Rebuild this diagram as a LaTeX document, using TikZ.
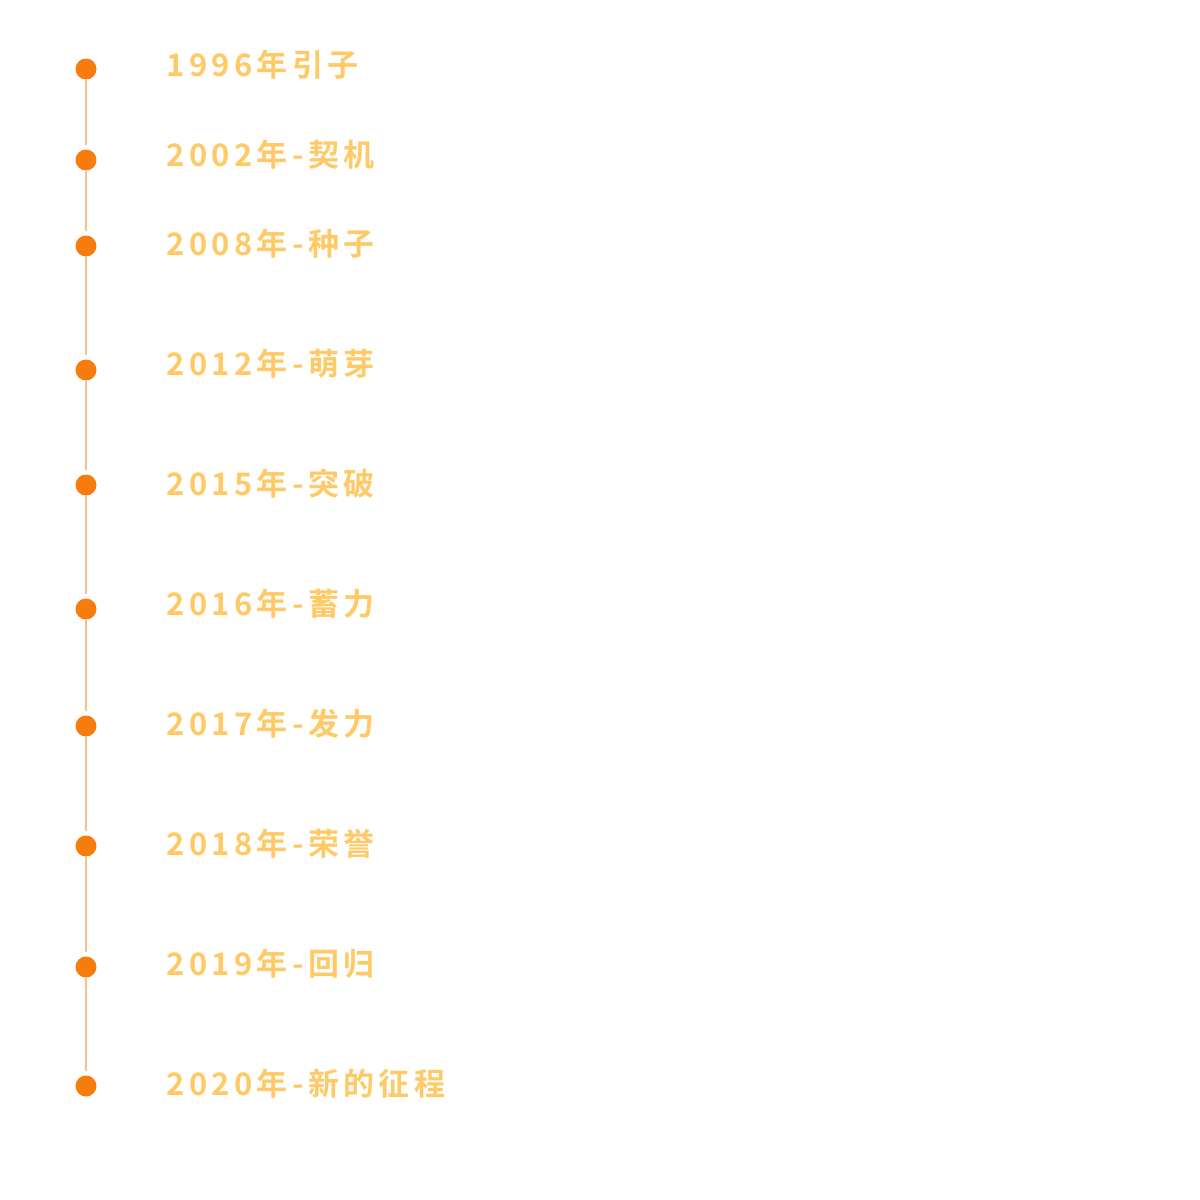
\documentclass[tikz,border=0pt]{standalone}
\usepackage{fontspec}
\newfontfamily\cjk[LetterSpace=14,BoldFont={Noto Sans CJK SC Bold}]{Noto Sans CJK SC}
\usepackage{tikz}
\definecolor{dotorange}{RGB}{247,124,14}
\definecolor{lineorange}{RGB}{249,190,140}
\definecolor{textgold}{RGB}{255,201,102}

\begin{document}
\begin{tikzpicture}[x=0.5pt,y=-0.5pt]
\tikzstyle{every node}+=[inner sep=0pt]
\tikzstyle{dot}=[circle, fill=dotorange, minimum size=10.5pt]
\tikzstyle{year}=[anchor=west, text=textgold, font=\cjk\bfseries\fontsize{15.5pt}{17pt}\selectfont]
\tikzstyle{link}=[lineorange, line width=0.6pt, shorten >=2pt]
\useasboundingbox (0,0) rectangle (1200,1200);
\node [dot] (d1) at (86,69) {};
\node [year] (t1) at (166,65) {1996年引子};
\node [dot] (d2) at (86,160) {};
\node [year] (t2) at (166,155) {2002年-契机};
\node [dot] (d3) at (86,246) {};
\node [year] (t3) at (166,244) {2008年-种子};
\node [dot] (d4) at (86,370) {};
\node [year] (t4) at (166,364) {2012年-萌芽};
\node [dot] (d5) at (86,485) {};
\node [year] (t5) at (166,484) {2015年-突破};
\node [dot] (d6) at (86,609) {};
\node [year] (t6) at (166,604) {2016年-蓄力};
\node [dot] (d7) at (86,726) {};
\node [year] (t7) at (166,724) {2017年-发力};
\node [dot] (d8) at (86,846) {};
\node [year] (t8) at (166,844) {2018年-荣誉};
\node [dot] (d9) at (86,967) {};
\node [year] (t9) at (166,964) {2019年-回归};
\node [dot] (d10) at (86,1086) {};
\node [year] (t10) at (166,1084) {2020年-新的征程};
\draw [link] (d1) -- (d2);
\draw [link] (d2) -- (d3);
\draw [link] (d3) -- (d4);
\draw [link] (d4) -- (d5);
\draw [link] (d5) -- (d6);
\draw [link] (d6) -- (d7);
\draw [link] (d7) -- (d8);
\draw [link] (d8) -- (d9);
\draw [link] (d9) -- (d10);
\end{tikzpicture}
\end{document}
